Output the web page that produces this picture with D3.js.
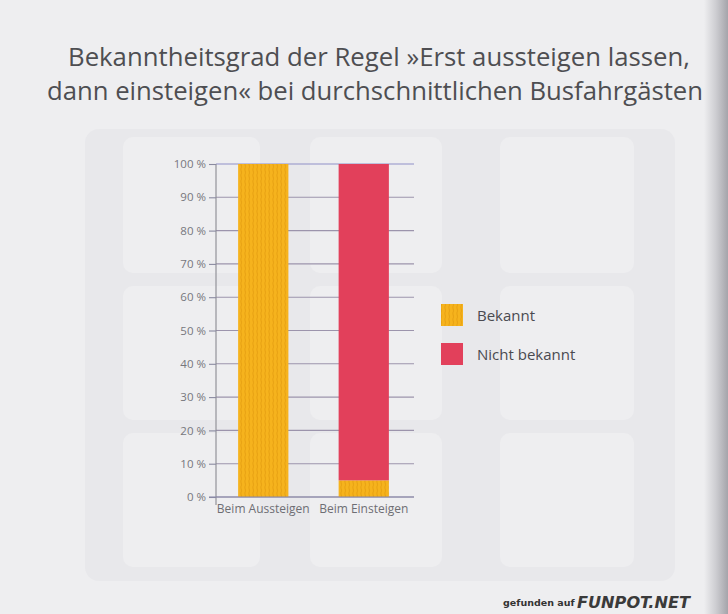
<!DOCTYPE html>
<html><head><meta charset="utf-8">
<script src="https://cdn.jsdelivr.net/npm/d3@7"></script>
<style>body{margin:0;background:#eeeef0;overflow:hidden}</style>
</head><body>
<svg id="c" width="728" height="614"></svg>
<script>
const titleLines = ["Bekanntheitsgrad der Regel »Erst aussteigen lassen,", "dann einsteigen« bei durchschnittlichen Busfahrgästen"];
const categories = ["Beim Aussteigen", "Beim Einsteigen"];
const seriesNames = ["Bekannt", "Nicht bekannt"];
const bekannt = [100, 5];
const nichtBekannt = [0, 95];
const tickValues = [0, 10, 20, 30, 40, 50, 60, 70, 80, 90, 100];
const tickLabels = ["0 %", "10 %", "20 %", "30 %", "40 %", "50 %", "60 %", "70 %", "80 %", "90 %", "100 %"];
const seriesColors = ["url(#stripes)", "#e2405b"];

const svg = d3.select("#c");
const defs = svg.append("defs");
const pat = defs.append("pattern").attr("id", "stripes").attr("patternUnits", "userSpaceOnUse")
  .attr("width", 4).attr("height", 6);
pat.append("rect").attr("width", 4).attr("height", 6).attr("fill", "#f6b31d");
pat.append("path").attr("d", "M1.2,0 Q0.6,1.5 1.2,3 Q1.8,4.5 1.2,6").attr("stroke", "#eaa414").attr("stroke-width", 1.2).attr("fill", "none");
const grad = defs.append("linearGradient").attr("id", "edge").attr("x1", 0).attr("x2", 1).attr("y1", 0).attr("y2", 0);
grad.append("stop").attr("offset", "0").attr("stop-color", "#eeeef0");
grad.append("stop").attr("offset", "0.5").attr("stop-color", "#cdcdd1");
grad.append("stop").attr("offset", "1").attr("stop-color", "#a4a4aa");

// page background + faint ghost layout showing through the page
svg.append("rect").attr("width", 728).attr("height", 614).attr("fill", "#eeeef0");
svg.append("rect").attr("x", 85).attr("y", 129).attr("width", 590).attr("height", 452).attr("rx", 14).attr("fill", "#e8e8eb");
const ghostCols = [[123, 260], [310, 442], [500, 634]];
const ghostRows = [[137, 273], [286, 420], [433, 567]];
ghostRows.forEach(r => ghostCols.forEach(c => {
  svg.append("rect").attr("x", c[0]).attr("y", r[0]).attr("width", c[1] - c[0]).attr("height", r[1] - r[0])
    .attr("rx", 10).attr("fill", "#eeeef0");
}));
svg.append("rect").attr("x", 704).attr("y", 0).attr("width", 24).attr("height", 614).attr("fill", "url(#edge)");

// title
const title = svg.append("g").attr("font-family", "Open Sans, sans-serif").attr("fill", "#4e4e52").attr("font-size", 25);
title.append("text").attr("x", 68).attr("y", 66).attr("textLength", 622).attr("lengthAdjust", "spacingAndGlyphs").text(titleLines[0]);
title.append("text").attr("x", 47).attr("y", 100).attr("textLength", 656).attr("lengthAdjust", "spacingAndGlyphs").text(titleLines[1]);

// scales
const x = d3.scaleBand().domain(categories).range([213, 414]).paddingInner(0.5).paddingOuter(0.25);
const y = d3.scaleLinear().domain([0, 100]).range([497, 164]);
const axisX = 216, gridEnd = 414;

// grid lines
svg.append("g").selectAll("line").data(tickValues).join("line")
  .attr("x1", axisX).attr("x2", gridEnd).attr("y1", d => y(d)).attr("y2", d => y(d))
  .attr("stroke", d => d === 100 ? "#9090c8" : "#9c94ac").attr("stroke-width", 1.1);

// stacked bars
const rows = categories.map((c, i) => ({ cat: c, "Bekannt": bekannt[i], "Nicht bekannt": nichtBekannt[i] }));
const stack = d3.stack().keys(seriesNames)(rows);
svg.append("g").selectAll("g").data(stack).join("g")
  .attr("fill", (d, i) => seriesColors[i])
  .selectAll("rect").data(d => d).join("rect")
  .attr("x", d => x(d.data.cat)).attr("width", x.bandwidth())
  .attr("y", d => y(d[1])).attr("height", d => y(d[0]) - y(d[1]));

// y axis
const yAxis = d3.axisLeft(y).tickValues(tickValues).tickFormat((d, i) => tickLabels[i]).tickSize(7).tickPadding(3);
const gy = svg.append("g").attr("transform", `translate(${axisX},0)`).call(yAxis);
gy.attr("font-size", 11.5).attr("font-family", "Open Sans, sans-serif");
gy.select(".domain").attr("stroke", "#8a8a92").attr("stroke-width", 1.1).attr("d", `M-0,${y(100)}V${y(0) + 8}`);
gy.selectAll(".tick line").attr("stroke", "#8a8aa0").attr("stroke-width", 1.1);
gy.selectAll(".tick text").attr("fill", "#77777d");

// baseline
svg.append("line").attr("x1", axisX - 7).attr("x2", gridEnd).attr("y1", y(0)).attr("y2", y(0)).attr("stroke", "#8888a8").attr("stroke-width", 1.2);

// x labels
const xAxis = d3.axisBottom(x).tickSize(0).tickPadding(7);
const gx = svg.append("g").attr("transform", `translate(0,${y(0)})`).call(xAxis);
gx.attr("font-size", 12).attr("font-family", "Open Sans, sans-serif");
gx.select(".domain").remove();
gx.selectAll(".tick text").attr("fill", "#6e6e74");

// legend
const leg = svg.append("g").attr("font-family", "Open Sans, sans-serif");
seriesNames.forEach((n, i) => {
  const gy0 = 304 + i * 39;
  leg.append("rect").attr("x", 441).attr("y", gy0).attr("width", 22).attr("height", 22).attr("fill", seriesColors[i]);
  leg.append("text").attr("x", 477).attr("y", gy0 + 17).attr("font-size", 15).attr("fill", "#4a4a50").text(n);
});

// watermark
svg.append("text").attr("x", 503).attr("y", 606).attr("font-family", "DejaVu Sans, sans-serif").attr("font-weight", "bold")
  .attr("font-size", 9.5).attr("fill", "#333").text("gefunden auf");
svg.append("text").attr("x", 577).attr("y", 608).attr("font-family", "DejaVu Sans, sans-serif").attr("font-weight", "900")
  .attr("font-style", "italic").attr("font-size", 16).attr("fill", "#3a3a3a").attr("textLength", 113).attr("lengthAdjust", "spacingAndGlyphs").text("FUNPOT.NET");
</script>
</body></html>
